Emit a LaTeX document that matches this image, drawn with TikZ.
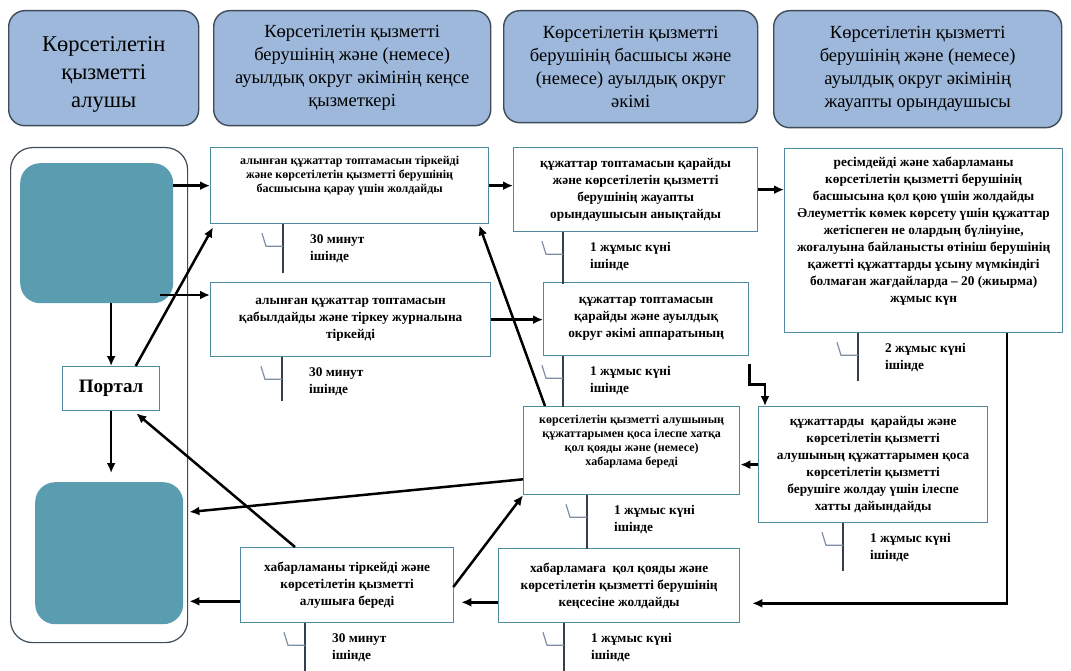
\documentclass[tikz,border=0pt]{standalone}
\usepackage{fontspec}
\setmainfont{Liberation Serif}
\usetikzlibrary{arrows.meta,calc}
\definecolor{hdrfill}{HTML}{9DB8DA}
\definecolor{hdrline}{HTML}{3E4B59}
\definecolor{teal}{HTML}{5B9DB0}
\definecolor{boxline}{HTML}{4F8B9E}
\definecolor{noteline}{HTML}{34404E}
\definecolor{brk}{HTML}{7E8FA5}
\tikzset{
  hdr/.style={draw=hdrline, line width=1.4pt, fill=hdrfill, rounded corners=16pt, anchor=north west, align=center, inner sep=0pt},
  procbox/.style={draw=boxline, line width=1.3pt, fill=white, anchor=north west, align=center, inner sep=0pt, font=\bfseries\fontsize{13.3}{17}\selectfont},
  smallbox/.style={procbox, font=\bfseries\fontsize{12}{14}\selectfont},
  tealbox/.style={fill=teal, rounded corners=20pt, anchor=north west, inner sep=0pt},
  arr/.style={line width=2.5pt, -{Latex[length=10pt,width=9pt]}},
  vline/.style={draw=noteline, line width=1.5pt},
  brace/.style={draw=brk, line width=1.2pt},
  note/.style={anchor=north west, align=left, inner sep=0pt, font=\bfseries\fontsize{13.3}{17}\selectfont}
}
\begin{document}
\begin{tikzpicture}[x=1pt,y=-1pt]
\useasboundingbox[fill=white] (0,0) rectangle (1071,671);
% headers
\node[hdr, minimum width=190pt, minimum height=115pt] (h1) at (8,10) {};
\node[align=center, inner sep=0pt, font=\fontsize{22.5}{28}\selectfont] (h1t) at ($(h1.center)+(0,6)$) {Көрсетілетін\\қызметті\\алушы};
\node[hdr, minimum width=277pt, minimum height=115pt, font=\fontsize{18.5}{23}\selectfont] (h2) at (213,10) {Көрсетілетін қызметті\\берушінің және (немесе)\\ауылдық округ әкімінің кеңсе\\қызметкері};
\node[hdr, minimum width=254pt, minimum height=112pt, font=\fontsize{18.5}{23}\selectfont] (h3) at (503,10) {Көрсетілетін қызметті\\берушінің басшысы және\\(немесе) ауылдық округ\\әкімі};
\node[hdr, minimum width=288pt, minimum height=117pt, font=\fontsize{18.5}{23}\selectfont] (h4) at (773,10) {Көрсетілетін қызметті\\берушінің және (немесе)\\ауылдық округ әкімінің\\жауапты орындаушысы};
% left column
\node[draw=hdrline, line width=1.2pt, rounded corners=22pt, anchor=north west, minimum width=177pt, minimum height=495pt, inner sep=0pt] (outer) at (10,147) {};
\node[tealbox, minimum width=153pt, minimum height=140pt] (tealTop) at (20,163) {};
\node[tealbox, minimum width=148pt, minimum height=142pt] (tealBot) at (35,482) {};
\node[draw=boxline, line width=1.3pt, fill=white, anchor=north west, minimum width=97pt, minimum height=44pt, inner sep=0pt, font=\bfseries\fontsize{19}{20}\selectfont] (portal) at (62,366) {Портал};
% process boxes
\node[smallbox, minimum width=278pt, minimum height=76pt] (A) at (210,147) {алынған құжаттар топтамасын тіркейді\\және көрсетілетін қызметті берушінің\\басшысына қарау үшін жолдайды\\[8pt]};
\node[procbox, minimum width=244pt, minimum height=84pt] (B) at (513,147) {құжаттар топтамасын қарайды\\және көрсетілетін қызметті\\берушінің жауапты\\орындаушысын анықтайды};
\node[procbox, minimum width=278pt, minimum height=184pt] (C) at (784,148) {ресімдейді және хабарламаны\\көрсетілетін қызметті берушінің\\басшысына қол қою үшін жолдайды\\Әлеуметтік көмек көрсету үшін құжаттар\\жетіспеген не олардың бүлінуіне,\\жоғалуына байланысты өтініш берушінің\\қажетті құжаттарды ұсыну мүмкіндігі\\болмаған жағдайларда – 20 (жиырма)\\жұмыс күн\\[4pt]};
\node[procbox, minimum width=280pt, minimum height=74pt] (D) at (210,282) {алынған құжаттар топтамасын\\қабылдайды және тіркеу журналына\\тіркейді};
\node[procbox, minimum width=205pt, minimum height=73pt] (E) at (543,282) {құжаттар топтамасын\\қарайды және ауылдық\\округ әкімі аппаратының};
\node[smallbox, minimum width=216pt, minimum height=88pt] (F) at (523,406) {көрсетілетін қызметті алушының\\құжаттарымен қоса ілеспе хатқа\\қол қояды және (немесе)\\хабарлама береді\\[6pt]};
\node[procbox, minimum width=229pt, minimum height=116pt] (G) at (758,406) {құжаттарды \ қарайды және\\көрсетілетін қызметті\\алушының құжаттарымен қоса\\көрсетілетін қызметті\\берушіге жолдау үшін ілеспе\\хатты дайындайды};
\node[procbox, minimum width=213pt, minimum height=75pt] (H) at (240,547) {хабарламаны тіркейді және\\көрсетілетін қызметті\\алушыға береді};
\node[procbox, minimum width=241pt, minimum height=74pt] (I) at (498,548) {хабарламаға \ қол қояды және\\көрсетілетін қызметті берушінің\\кеңсесіне жолдайды};
% time notes
\foreach \bx/\xx/\len/\txt in {A/283/49/{30 минут\\ішінде}, B/563/52/{1 жұмыс күні\\ішінде}, C/858/48/{2 жұмыс күні\\ішінде}, D/282/44/{30 минут\\ішінде}, E/563/51/{1 жұмыс күні\\ішінде}, F/587/54/{1 жұмыс күні\\ішінде}, G/843/48/{1 жұмыс күні\\ішінде}, H/305/49/{30 минут\\ішінде}, I/564/49/{1 жұмыс күні\\ішінде}}{
  \coordinate (t\bx) at (\bx.south west -| \xx,0);
  \coordinate (e\bx) at ($(t\bx)+(0,\len)$);
  \draw[vline] (t\bx) -- (e\bx);
  \draw[brace] ($(t\bx)+(-21,9)$) -- ($(t\bx)+(-17,22)$) -- ($(t\bx)+(0,22)$);
  \node[note] (n\bx) at ($(t\bx)+(27,10)$) {\txt};
}
% connectors left column
\draw[arr] (tealTop.east |- A.west) -- (A.west);
\coordinate (Dp) at ($(D.north west)+(0,13)$);
\draw[arr] ($(tealTop.east |- Dp)+(-13,0)$) -- (Dp);
\draw[arr] (tealTop.south -| portal.north) -- (portal.north);
\draw[arr] (portal.south) -- ($(tealBot.north -| portal.south)+(0,-9)$);
\draw[arr] ($(portal.north west)!0.75!(portal.north east)$) -- ($(A.south west)+(3,3)$);
\draw[arr] ($(H.north west)+(55,0)$) -- ($(portal.south east)+(-24,2)$);
\draw[arr] ($(F.south west)+(0,-16)$) -- ($(tealBot.north east)+(6,30)$);
\draw[arr] ($(H.south west)+(0,-22)$) -- ($(tealBot.east |- H.south west)+(6,-22)$);
% process connectors
\draw[arr] (A.east) -- (A.east -| B.west);
\draw[arr] (B.east) -- (B.east -| C.west);
\draw[arr] (D.east) -- (D.east -| E.west);
\draw[arr] ($(F.north west)+(22,0)$) -- ($(A.south east)+(-10,1)$);
\draw[arr] ($(E.south east)+(0,8)$) -- ++(0,20) -| ($(G.north west)+(7,0)$);
\draw[arr] (G.west) -- (G.west -| F.east);
\draw[arr] (C.south -| 1007,0) |- ($(I.south east)+(12,-20)$);
\draw[arr] ($(I.south west)+(0,-21)$) -- ($(H.south east)+(7,-21)$);
\draw[arr] ($(H.north east)+(-1,40)$) -- (F.south west);
\end{tikzpicture}
\end{document}
